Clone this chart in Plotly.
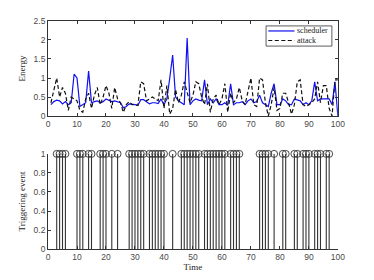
import plotly.graph_objects as go

time = list(range(1, 101))
scheduler = [0.30, 0.38, 0.42, 0.40, 0.32, 0.38, 0.30, 0.35, 1.10, 1.00,
             0.25, 0.30, 0.35, 1.18, 0.35, 0.38, 0.40, 0.35, 0.38, 0.45,
             0.42, 0.38, 0.40, 0.37, 0.35, 0.22, 0.25, 0.32, 0.30, 0.30,
             0.28, 0.43, 0.43, 0.38, 0.32, 0.35, 0.35, 0.33, 0.45, 0.30,
             0.45, 1.00, 1.60, 0.50, 0.40, 0.35, 0.30, 2.05, 0.30, 0.40,
             0.45, 0.42, 0.40, 0.95, 0.30, 0.45, 0.35, 0.45, 0.30, 0.30,
             0.35, 0.28, 0.85, 0.30, 0.35, 0.35, 0.38, 0.30, 0.40, 0.45,
             0.35, 0.38, 0.55, 0.35, 0.30, 0.25, 0.60, 0.85, 0.30, 0.30,
             0.45, 0.40, 0.30, 0.30, 0.45, 0.42, 0.40, 0.30, 0.35, 0.30,
             0.40, 0.90, 0.40, 0.45, 0.45, 0.45, 0.45, 0.30, 0.90, 0.00]
attack = [0.35, 0.70, 1.00, 0.50, 0.75, 0.60, 0.15, 0.50, 0.45, 0.40,
          0.15, 0.10, 0.45, 0.60, 0.20, 0.55, 0.75, 0.30, 0.50, 0.80,
          0.60, 0.20, 0.75, 0.45, 0.35, 0.10, 0.30, 0.38, 0.30, 0.30,
          0.28, 0.90, 0.85, 0.40, 0.45, 0.50, 0.45, 0.40, 0.95, 0.20,
          0.80, 0.05, 0.20, 0.70, 0.35, 0.55, 0.90, 0.60, 0.35, 0.55,
          0.90, 0.85, 0.50, 0.30, 0.85, 0.10, 0.45, 0.55, 0.30, 0.45,
          0.85, 0.10, 0.60, 0.35, 0.45, 0.75, 0.40, 0.30, 0.70, 1.00,
          0.30, 0.25, 1.00, 0.95, 0.35, 0.00, 0.30, 0.75, 0.15, 0.20,
          0.60, 0.60, 0.35, 0.05, 0.30, 0.90, 0.95, 0.30, 0.25, 0.30,
          0.35, 0.45, 0.90, 0.35, 0.80, 0.80, 0.20, 0.00, 0.95, 0.95]
trigger_times = [3, 4, 5, 6, 10, 11, 12, 14, 15, 18, 19, 20, 22, 24,
                 28, 29, 30, 31, 32, 33, 35, 36, 37, 38, 39, 40, 43,
                 46, 47, 48, 49, 50, 51, 52, 54, 55, 56, 57, 58, 59, 60, 61,
                 63, 64, 65, 66, 73, 74, 75, 76, 78, 81, 82, 85, 86,
                 88, 89, 90, 92, 93, 94, 96, 97]
trigger_values = [1] * len(trigger_times)

top_ticks = [0, 0.5, 1, 1.5, 2, 2.5]
top_ticklabels = ["0", "0.5", "1", "1.5", "2", "2.5"]
bot_ticks = [0, 0.2, 0.4, 0.6, 0.8, 1]
bot_ticklabels = ["0", "0.2", "0.4", "0.6", "0.8", "1"]
x_ticks = list(range(0, 101, 10))
legend_names = ["scheduler", "attack"]

serif = "Liberation Serif"
sans = "Liberation Sans"
axcol = "#333333"
blue = "#1010f0"
black = "#111111"
dash = "4px,2.5px"
tickfont = dict(family=sans, size=8.5, color="#4a4a4a")
titlefont = dict(family=serif, size=9, color="#222")

fig = go.Figure()
fig.add_trace(go.Scatter(x=time, y=scheduler, mode="lines", name=legend_names[0],
                         line=dict(color=blue, width=1.2),
                         xaxis="x", yaxis="y"))
fig.add_trace(go.Scatter(x=time, y=attack, mode="lines", name=legend_names[1],
                         line=dict(color=black, width=1.2, dash=dash),
                         xaxis="x", yaxis="y"))

stem_x, stem_y = [], []
for t, v in zip(trigger_times, trigger_values):
    stem_x += [t, t, None]
    stem_y += [0, v, None]
fig.add_trace(go.Scatter(x=stem_x, y=stem_y, mode="lines",
                         line=dict(color="#333333", width=1.1),
                         xaxis="x2", yaxis="y2"))
fig.add_trace(go.Scatter(x=trigger_times, y=trigger_values, mode="markers",
                         cliponaxis=False,
                         marker=dict(symbol="circle-open", size=7,
                                     color="#333333", line=dict(width=0.9)),
                         xaxis="x2", yaxis="y2"))

common = dict(showline=True, linecolor=axcol, linewidth=0.8, ticks="inside",
              ticklen=3, tickcolor=axcol, showgrid=False, zeroline=False,
              tickfont=tickfont, automargin=False)

# compact legend box (MATLAB style) drawn in paper coordinates
lx0, lx1, ly0, ly1 = 0.690, 0.866, 0.864, 0.936
ya, yb = 0.918, 0.884
shapes = [
    dict(type="rect", xref="paper", yref="paper", x0=lx0, x1=lx1, y0=ly0, y1=ly1,
         line=dict(color=axcol, width=0.8), fillcolor="white", layer="above"),
    dict(type="line", xref="paper", yref="paper", x0=lx0 + 0.006, x1=lx0 + 0.076,
         y0=ya, y1=ya, line=dict(color=blue, width=1.2), layer="above"),
    dict(type="line", xref="paper", yref="paper", x0=lx0 + 0.006, x1=lx0 + 0.076,
         y0=yb, y1=yb, line=dict(color=black, width=1.2, dash=dash),
         layer="above"),
]
annotations = [
    dict(text=legend_names[0], xref="paper", yref="paper", x=lx0 + 0.078, y=ya,
         xanchor="left", yanchor="middle", showarrow=False,
         font=dict(family=serif, size=8, color="#222")),
    dict(text=legend_names[1], xref="paper", yref="paper", x=lx0 + 0.078, y=yb,
         xanchor="left", yanchor="middle", showarrow=False,
         font=dict(family=serif, size=8, color="#222")),
]

fig.update_layout(
    width=374, height=280,
    margin=dict(l=0, r=0, t=0, b=0),
    paper_bgcolor="white", plot_bgcolor="white",
    showlegend=False,
    shapes=shapes, annotations=annotations,
    xaxis=dict(domain=[0.107, 0.882], range=[0, 100], tickvals=x_ticks,
               mirror="ticks", anchor="y", **common),
    yaxis=dict(domain=[0.614, 0.954], range=[0, 2.5], tickvals=top_ticks,
               ticktext=top_ticklabels, mirror="ticks", anchor="x",
               title=dict(text="Energy", font=titlefont, standoff=6), **common),
    xaxis2=dict(domain=[0.107, 0.882], range=[0, 100], tickvals=x_ticks,
                anchor="y2",
                title=dict(text="Time", font=titlefont, standoff=2), **common),
    yaxis2=dict(domain=[0.139, 0.479], range=[0, 1], tickvals=bot_ticks,
                ticktext=bot_ticklabels, anchor="x2",
                title=dict(text="Triggering event", font=titlefont, standoff=6),
                **common),
)

fig.write_html("out.html")
